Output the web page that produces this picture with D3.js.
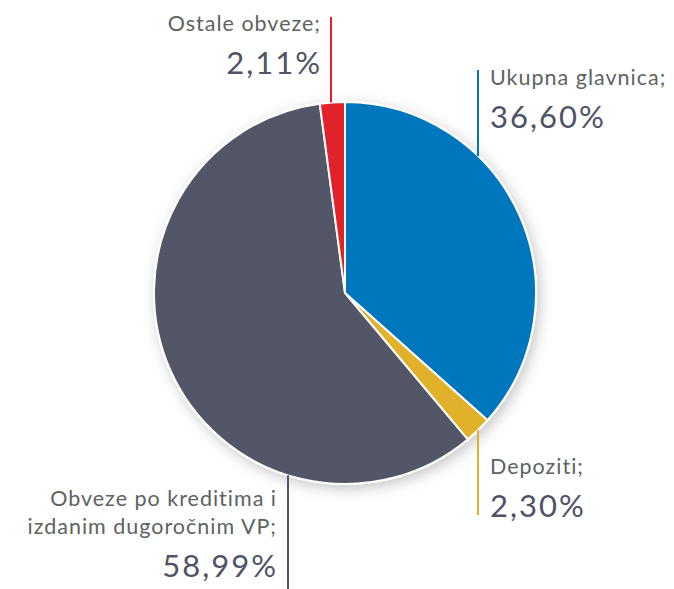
<!DOCTYPE html>
<html>
<head>
<meta charset="utf-8">
<script src="https://cdn.jsdelivr.net/npm/d3@7"></script>
<style>
  body { margin: 0; background: #fff; }
  svg { display: block; font-family: Lato, "Open Sans", sans-serif; }
</style>
</head>
<body>
<div id="chart"></div>
<script>
// data
const categories = ["Ukupna glavnica;", "Depoziti;", "Obveze po kreditima i|izdanim dugoročnim VP;", "Ostale obveze;"];
const shares = [36.60, 2.30, 58.99, 2.11];
const valueLabels = ["36,60%", "2,30%", "58,99%", "2,11%"];
const colors = ["#0077bd", "#e2b12a", "#535667", "#e2222b"];

// layout of the callouts (x of leader line, end of line, text side)
const callouts = [
  {lineX: 478, lineEnd: 70,  side: "top",    anchor: "start", tx: 490, ty: 85},
  {lineX: 478, lineEnd: 515, side: "bottom", anchor: "start", tx: 490, ty: 474},
  {lineX: 288, lineEnd: 589, side: "bottom", anchor: "end",   tx: 276, ty: 506},
  {lineX: 331, lineEnd: 17,  side: "top",    anchor: "end",   tx: 320, ty: 31}
];

const w = 674, h = 589;
const cx = 345, cy = 293, r = 191;

const svg = d3.select("#chart").append("svg")
    .attr("width", w)
    .attr("height", h);

const defs = svg.append("defs");
const f = defs.append("filter").attr("id", "shadow")
    .attr("x", "-20%").attr("y", "-20%").attr("width", "140%").attr("height", "140%");
f.append("feDropShadow")
    .attr("dx", 3).attr("dy", 4)
    .attr("stdDeviation", 7)
    .attr("flood-color", "#000")
    .attr("flood-opacity", 0.22);

const pie = d3.pie().sort(null).value(d => d);
const arc = d3.arc().innerRadius(0).outerRadius(r);
const arcs = pie(shares);

const g = svg.append("g").attr("transform", `translate(${cx},${cy})`);

// shadow disc under the pie
g.append("circle")
    .attr("r", r + 1)
    .attr("fill", "#fff")
    .attr("filter", "url(#shadow)");

g.selectAll("path.slice")
  .data(arcs)
  .enter().append("path")
    .attr("class", "slice")
    .attr("d", arc)
    .attr("fill", (d, i) => colors[i])
    .attr("stroke", "#fff")
    .attr("stroke-width", 2)
    .attr("stroke-linejoin", "round");

// leader lines
svg.selectAll("line.leader")
  .data(callouts)
  .enter().append("line")
    .attr("class", "leader")
    .attr("x1", d => d.lineX)
    .attr("x2", d => d.lineX)
    .attr("y1", d => {
      const dy = Math.sqrt(r * r - (d.lineX - cx) ** 2);
      return d.side === "top" ? cy - dy : cy + dy;
    })
    .attr("y2", d => d.lineEnd)
    .attr("stroke", (d, i) => colors[i])
    .attr("stroke-width", 2);

// labels (trailing letter-spacing pushes end-anchored text left, so compensate)
callouts.forEach((c, i) => {
  const lines = categories[i].split("|");
  const isEnd = c.anchor === "end";
  const t = svg.append("text")
      .attr("text-anchor", c.anchor)
      .attr("fill", "#5c6361")
      .attr("font-size", 21.5)
      .attr("letter-spacing", 1);
  lines.forEach((ln, j) => {
    t.append("tspan")
      .attr("x", c.tx + (isEnd ? 1 : 0))
      .attr("y", c.ty + j * 28)
      .text(ln);
  });
  svg.append("text")
      .attr("text-anchor", c.anchor)
      .attr("x", c.tx + (isEnd ? 2 : 0))
      .attr("y", c.ty + (lines.length - 1) * 28 + 43)
      .attr("fill", "#4f5366")
      .attr("font-size", 31)
      .attr("letter-spacing", 2)
      .text(valueLabels[i]);
});
</script>
</body>
</html>
